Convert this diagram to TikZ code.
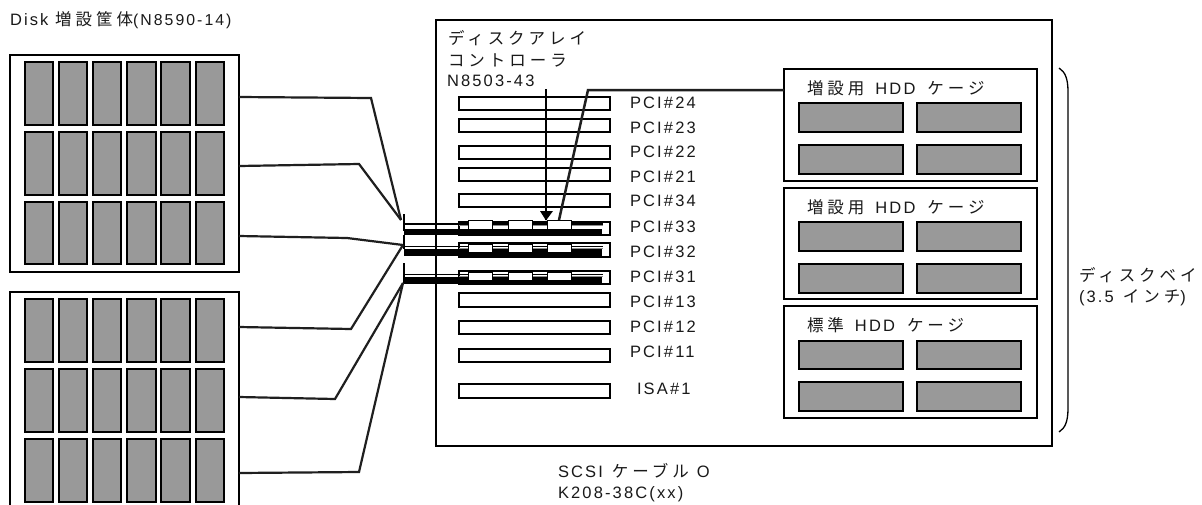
\documentclass[tikz,border=0pt]{standalone}
\usepackage{fontspec}
\setmainfont{Liberation Sans}[LetterSpace=13]
\newfontfamily\jp{Noto Sans CJK JP}[LetterSpace=24]
\definecolor{diskgrey}{HTML}{999999}
\tikzset{
  rectn/.style={draw=black,line width=1.6pt,fill=white,inner sep=0pt,outer sep=0pt,anchor=north west},
  disk/.style={rectn,fill=diskgrey,line width=1.7pt},
  slot/.style={rectn,line width=1.7pt},
  chip/.style={rectn,line width=1pt},
  wire/.style={draw=black!88,line width=2.2pt,line join=miter},
  lbl/.style={anchor=base west,inner sep=0pt,outer sep=0pt,font=\fontsize{16.5}{20}\selectfont,text=black!90},
  pcilbl/.style={lbl},
  thin/.style={draw=black,line width=1.2pt}
}
\newcommand{\bx}[6]{\node[#1,minimum width={(#5-#3)*1pt},minimum height={(#6-#4)*1pt}] (#2) at (#3,#4) {};}
\newcommand{\gp}[1]{\hspace{#1pt}}
\begin{document}
\begin{tikzpicture}[x=1pt,y=-1pt]
\useasboundingbox (0,0) rectangle (1202,504);
\clip (0,0) rectangle (1202,504);
\fill[white] (0,0) rectangle (1202,504);

% enclosures
\bx{rectn}{encA}{10}{55}{239}{272}
\bx{rectn}{encB}{10}{292}{239}{520}
\foreach \c/\xa/\xb in {1/25/53,2/59/87,3/93/121,4/127/156,5/161/190,6/196/224}{
  \foreach \r/\ya/\yb in {1/62/125,2/132/195,3/202/264}{\bx{disk}{a\r\c}{\xa}{\ya}{\xb}{\yb}}
  \foreach \r/\ya/\yb in {1/299/362,2/369/432,3/439/502}{\bx{disk}{b\r\c}{\xa}{\ya}{\xb}{\yb}}
}

% main chassis
\bx{rectn}{chassis}{436}{20}{1052}{446}

% cages
\foreach \n/\ya/\yb in {1/69/181,2/188/299,3/306/418}{\bx{rectn}{cage\n}{784}{\ya}{1037}{\yb}}
\foreach \n/\ya/\yb in {1/103/132,2/145/174,3/222/251,4/264/293,5/341/369,6/382/411}{
  \bx{disk}{hl\n}{799}{\ya}{903}{\yb}
  \bx{disk}{hr\n}{917}{\ya}{1021}{\yb}
}

% slots
\foreach \n/\ya/\yb in {s24/97/110,s23/119/132,s22/146/159,s21/168/181,s34/194/207,s33/222/235,s32/243/257,s31/271/284,s13/293/307,s12/321/334,s11/349/362,isa/384/398}{
  \bx{slot}{\n}{459}{\ya}{610}{\yb}
}

% cables in slots
\coordinate (ca) at (404,224);
\coordinate (cb) at (404,246.5);
\coordinate (cc) at (404,274.5);
\foreach \t/\v/\ya/\yb/\yc in {ca/cat/214/231/224,cb/cbt/235/249/246.5,cc/cct/263/284/274.5}{
  \coordinate (\v) at (404,\ya);
  \coordinate (\v e) at (404,\yb);
  \draw[thin,line width=1.3pt] (\v) -- (\v e);
  \coordinate (\v r) at (603,\yc);
  \draw[thin,line width=1.2pt] (\t) -- (\v r);
  \draw[draw=black!45,line width=1pt] ([yshift=-1.8pt]\t -| s33.west) -- ([yshift=-1.8pt]\v r);
}
\fill[black] (404,229) rectangle (602,235);
\fill[black] (404,249) rectangle (602,256);
\fill[black] (404,277) rectangle (602,283.5);
\foreach \n/\xa/\xb in {1/468/492,2/508/532,3/547/571}{
  \bx{chip}{ka\n}{\xa}{220}{\xb}{229.5}
  \bx{chip}{kb\n}{\xa}{244}{\xb}{252}
  \bx{chip}{kc\n}{\xa}{272}{\xb}{280}
}

% connectors left
\coordinate (pa1) at (239,97);  \coordinate (ha1) at (371,98);
\coordinate (pa2) at (239,166); \coordinate (ha2) at (359,164);
\coordinate (pa3) at (239,236); \coordinate (ha3) at (347,238);
\coordinate (pb1) at (239,327); \coordinate (hb1) at (351,329);
\coordinate (pb2) at (239,397); \coordinate (hb2) at (335,399);
\coordinate (pb3) at (239,473); \coordinate (hb3) at (359,472);
\coordinate (jA) at (401,220);
\coordinate (jB) at (403,245);
\coordinate (jC) at (403,283);
\draw[wire] (pa1) -- (ha1) -- (jA);
\draw[wire] (pa2) -- (ha2) -- (jA);
\draw[wire] (pa3) -- (ha3) -- (jB);
\draw[wire] (pb1) -- (hb1) -- (jB);
\draw[wire] (pb2) -- (hb2) -- (jC);
\draw[wire] (pb3) -- (hb3) -- (jC);

% controller arrow and link to cage
\coordinate (arrT) at (546,89);
\coordinate (arrB) at (546,220);
\draw[thin] (arrT) -- (arrB);
\fill[black] (540,211) -- (553,211) -- (546,220.5) -- cycle;
\coordinate (lk) at (588,90);
\draw[wire,line width=2.5pt] (cage1.west |- lk) -- (lk) -- (ka3.north);

% brace
\coordinate (brT) at (1059,68);
\coordinate (brB) at (1059,432);
\draw[black,line width=1.3pt] (brT) .. controls (1065,72) and (1068,78) .. (1068,92) -- (1068,408) .. controls (1068,422) and (1065,428) .. (brB);

% labels
\node[lbl] (t1) at (10,25.5) {Disk {\jp 増設筐体}\fontsize{15.8}{20}\selectfont(N8590-14)};
\node[lbl] (t2) at (448,44) {\jp ディスクアレイ};
\node[lbl] (t3) at (448,66) {\jp コントローラ};
\node[lbl] (t4) at (447,86.5) {N8503-43};
\foreach \n/\t/\y in {l24/PCI\#24/108.5,l23/PCI\#23/133.5,l22/PCI\#22/157.5,l21/PCI\#21/182.5,l34/PCI\#34/206.5,l33/PCI\#33/232.5,l32/PCI\#32/257.5,l31/PCI\#31/282.5,l13/PCI\#13/307.5,l12/PCI\#12/332.5,l11/PCI\#11/357.5}{
  \node[pcilbl] (\n) at (630,\y) {\t};
}
\node[pcilbl] (lisa) at (637,394.5) {ISA\#1};
\node[lbl] (c1) at (807,94.5) {{\jp 増設用}\gp{11}HDD\gp{12}{\jp ケージ}};
\node[lbl] (c2) at (807,213) {{\jp 増設用}\gp{11}HDD\gp{12}{\jp ケージ}};
\node[lbl] (c3) at (807,331.5) {{\jp 標準}\gp{11}HDD\gp{12}{\jp ケージ}};
\node[lbl] (b1) at (1079,281) {\jp ディスクベイ};
\node[lbl] (b2) at (1079,302) {(3.5\gp{9}{\jp インチ})};
\node[lbl] (sc1) at (558,477) {SCSI\gp{9}{\jp ケーブル}\gp{8}O};
\node[lbl] (sc2) at (558,498) {K208-38C(xx)};
\end{tikzpicture}
\end{document}
